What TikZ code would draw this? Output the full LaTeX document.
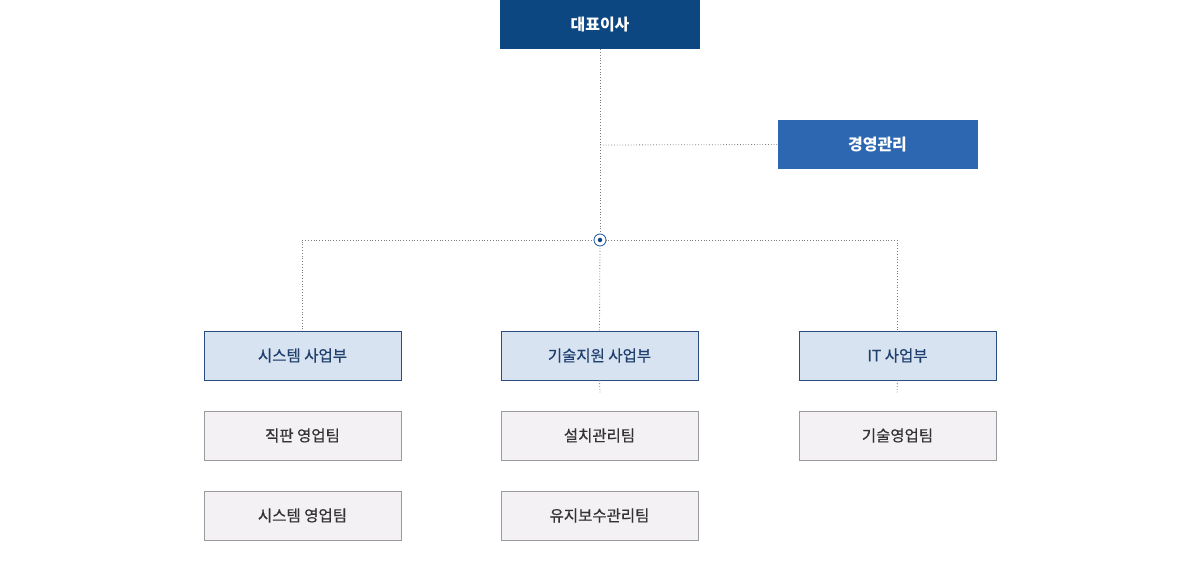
\documentclass[tikz,border=0pt]{standalone}
\usepackage{fontspec}
\setmainfont{Noto Sans CJK KR}
\newfontfamily\medfont[FakeBold=0.6]{Noto Sans CJK KR}
\begin{document}
\begin{tikzpicture}[x=1pt,y=-1pt,
  topbox/.style={draw=none,fill=#1,minimum width=200pt,minimum height=49pt,inner sep=0pt,text=white,font=\fontsize{16}{19}\selectfont\bfseries},
  deptbox/.style={draw=deptline,line width=0.9pt,fill=deptfill,minimum width=197pt,minimum height=49pt,inner sep=0pt,text=depttext,font=\medfont\fontsize{15.5}{18}\selectfont},
  teambox/.style={draw=teamline,line width=0.9pt,fill=teamfill,minimum width=197pt,minimum height=49pt,inner sep=0pt,text=teamtext,font=\medfont\fontsize{15.5}{18}\selectfont},
  link/.style={draw=linegray,line width=0.8pt,dotted}]
\definecolor{navy}{HTML}{0C4782}
\definecolor{midblue}{HTML}{2E67B1}
\definecolor{deptline}{HTML}{2A4E80}
\definecolor{deptfill}{HTML}{D8E3F1}
\definecolor{depttext}{HTML}{1F3F6E}
\definecolor{teamline}{HTML}{9A9A9E}
\definecolor{teamfill}{HTML}{F3F1F4}
\definecolor{teamtext}{HTML}{333333}
\definecolor{linegray}{HTML}{7A7A7A}
\useasboundingbox (0,0) rectangle (1200,580);
\node[topbox=navy] (ceo) at (600,24.5) {대표이사};
\node[topbox=midblue] (mgmt) at (877.5,144.5) {경영관리};
\node[deptbox] (d1) at (302.5,355.5) {시스템 사업부};
\node[deptbox] (d2) at (599.5,355.5) {기술지원 사업부};
\node[deptbox] (d3) at (897.5,355.5) {IT 사업부};
\node[teambox] (t11) at (302.5,435.5) {직판 영업팀};
\node[teambox] (t12) at (302.5,515.5) {시스템 영업팀};
\node[teambox] (t21) at (599.5,435.5) {설치관리팀};
\node[teambox] (t22) at (599.5,515.5) {유지보수관리팀};
\node[teambox] (t31) at (897.5,435.5) {기술영업팀};
\coordinate (hub) at (600,240);
\coordinate (mj) at (600,145);
\coordinate (lc) at (302,240);
\coordinate (rc) at (897,240);
\coordinate (d2b) at (600,393);
\coordinate (d3b) at (897,393);
\draw[link] (ceo.south) -- (hub);
\draw[link] (mj) -- (mgmt.west);
\draw[link] (hub) -- (d2.north);
\draw[link] (hub) -- (lc) -- (lc |- d1.north);
\draw[link] (hub) -- (rc) -- (rc |- d3.north);
\draw[link] (d2.south) -- (d2b);
\draw[link] (d3.south) -- (d3b);
\node[circle,draw=midblue,line width=0.9pt,fill=white,minimum size=12pt,inner sep=0pt] (hubc) at (hub) {};
\node[circle,fill=navy,minimum size=4.5pt,inner sep=0pt] (hubd) at (hub) {};
\end{tikzpicture}
\end{document}
